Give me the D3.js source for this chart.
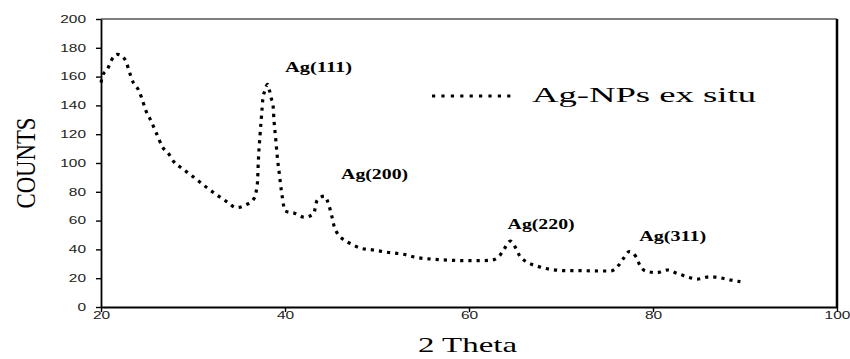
<!DOCTYPE html>
<html>
<head>
<meta charset="utf-8">
<script src="https://cdn.jsdelivr.net/npm/d3@7"></script>
<style>
  html, body { margin: 0; padding: 0; background: #fff; }
  svg { display: block; }
</style>
</head>
<body>
<svg id="chart" width="850" height="359"></svg>
<script>
// ---- data ----
const twoTheta = [20.0, 20.2, 20.7, 21.1, 21.8, 22.7, 23.0, 23.5, 24.05, 24.4, 24.9, 25.3, 26.0, 26.7, 27.4, 27.9, 28.7, 29.7, 30.7, 31.6, 32.6, 33.7, 34.7, 35.7, 36.6, 37.0, 37.1, 37.3, 37.5, 37.6, 37.8, 38.1, 38.3, 38.5, 38.7, 38.8, 39.0, 39.2, 39.4, 39.5, 39.7, 40.0, 41.1, 42.1, 43.1, 43.5, 44.3, 44.8, 45.1, 45.3, 45.7, 46.3, 47.2, 48.3, 49.6, 51.1, 52.9, 54.2, 55.9, 57.6, 59.4, 61.4, 62.5, 63.3, 63.8, 64.5, 65.1, 65.5, 66.2, 67.35, 68.8, 70.7, 72.4, 74.1, 75.4, 76.2, 76.8, 77.4, 78.2, 78.5, 79.2, 80.4, 81.55, 82.6, 83.7, 84.8, 86.2, 87.2, 88.4, 89.5];
const counts   = [155.8, 161, 165, 171, 175.5, 171, 165, 156, 151, 145.6, 136, 131, 121, 111, 106, 101, 96.7, 92, 87, 82.4, 77.8, 73, 69, 70.8, 75, 86, 101, 120.6, 137, 145, 150, 154.6, 150.7, 145, 140, 130, 116, 102, 91.7, 86, 76.6, 66.7, 65, 62.3, 64.6, 74.3, 77, 70, 62.7, 57, 51, 47, 43.75, 40.7, 39.6, 38, 36.6, 34.5, 33.3, 32.6, 32.2, 32.2, 32.6, 35.4, 40, 45.8, 40.7, 35.6, 31.5, 28.5, 26.2, 25.2, 25.2, 25, 25, 28.5, 33.8, 38.4, 34.5, 29.9, 25, 23.8, 25.7, 23.4, 21, 19.4, 21, 20.4, 18.75, 17.6];
const xTicks = [20, 40, 60, 80, 100];
const yTicks = [0, 20, 40, 60, 80, 100, 120, 140, 160, 180, 200];
const peakLabels = ["Ag(111)", "Ag(200)", "Ag(220)", "Ag(311)"];
const peakX = [40.0, 46.1, 64.2, 78.5];
const peakY = [163, 89, 54, 46];
const seriesName = "Ag-NPs ex situ";
const xTitle = "2 Theta";
const yTitle = "COUNTS";

// ---- layout ----
const svg = d3.select("#chart");
const L = 101, R = 837, T = 19, B = 307;
const x = d3.scaleLinear().domain([20, 100]).range([L, R]);
const y = d3.scaleLinear().domain([0, 200]).range([B, T]);

// plot frame (top + right)
svg.append("line").attr("x1", L).attr("x2", R).attr("y1", T).attr("y2", T)
  .attr("stroke", "#000").attr("stroke-width", 1.2);
svg.append("line").attr("x1", R).attr("x2", R).attr("y1", T).attr("y2", B)
  .attr("stroke", "#000").attr("stroke-width", 2.5);

// axes
const xAxis = svg.append("g").attr("transform", `translate(0,${B})`)
  .call(d3.axisBottom(x).tickValues(xTicks).tickSize(5).tickSizeOuter(0).tickFormat(d3.format("d")));
const yAxis = svg.append("g").attr("transform", `translate(${L},0)`)
  .call(d3.axisLeft(y).tickValues(yTicks).tickSize(5).tickSizeOuter(0).tickFormat(d3.format("d")));

[xAxis, yAxis].forEach(g => {
  g.select(".domain").attr("stroke", "#000").attr("stroke-width", 1.8);
  g.selectAll(".tick line").attr("stroke", "#000").attr("stroke-width", 1.4);
  g.selectAll(".tick text")
    .attr("font-family", "Liberation Sans, Arial, sans-serif")
    .attr("font-size", 10.5)
    .attr("fill", "#222")
    .attr("lengthAdjust", "spacingAndGlyphs")
    .attr("textLength", d => String(d).length * 8.6);
});
xAxis.selectAll(".tick text").attr("dy", "0.2em").attr("y", 10);
yAxis.selectAll(".tick text").attr("x", -15);

// series line
const line = d3.line().x((d, i) => x(twoTheta[i])).y(d => y(d)).curve(d3.curveMonotoneX);
svg.append("path")
  .datum(counts)
  .attr("d", line)
  .attr("fill", "none")
  .attr("stroke", "#000")
  .attr("stroke-width", 3.2)
  .attr("stroke-dasharray", "3.2 5");

// peak labels
svg.selectAll(".peak")
  .data(peakLabels)
  .join("text")
  .attr("class", "peak")
  .attr("x", (d, i) => x(peakX[i]))
  .attr("y", (d, i) => y(peakY[i]))
  .attr("font-family", "Liberation Serif, Times New Roman, serif")
  .attr("font-weight", "bold")
  .attr("font-size", 14)
  .attr("fill", "#000")
  .attr("lengthAdjust", "spacingAndGlyphs")
  .attr("textLength", 67)
  .text(d => d);

// legend
svg.append("line")
  .attr("x1", 432).attr("x2", 512).attr("y1", 96).attr("y2", 96)
  .attr("stroke", "#000").attr("stroke-width", 3.2).attr("stroke-dasharray", "3.2 6.2");
svg.append("text")
  .attr("x", 532).attr("y", 102)
  .attr("font-family", "Liberation Serif, Times New Roman, serif")
  .attr("font-size", 21)
  .attr("fill", "#000")
  .attr("lengthAdjust", "spacingAndGlyphs")
  .attr("textLength", 224)
  .text(seriesName);

// axis titles
svg.append("text")
  .attr("x", 418).attr("y", 352)
  .attr("font-family", "Liberation Serif, Times New Roman, serif")
  .attr("font-size", 21)
  .attr("fill", "#000")
  .attr("lengthAdjust", "spacingAndGlyphs")
  .attr("textLength", 99)
  .text(xTitle);

svg.append("text")
  .attr("transform", "translate(35,163) scale(1.35,1) rotate(-90)")
  .attr("text-anchor", "middle")
  .attr("font-family", "Liberation Serif, Times New Roman, serif")
  .attr("font-size", 21)
  .attr("fill", "#000")
  .attr("lengthAdjust", "spacingAndGlyphs")
  .attr("textLength", 91)
  .text(yTitle);
</script>
</body>
</html>
